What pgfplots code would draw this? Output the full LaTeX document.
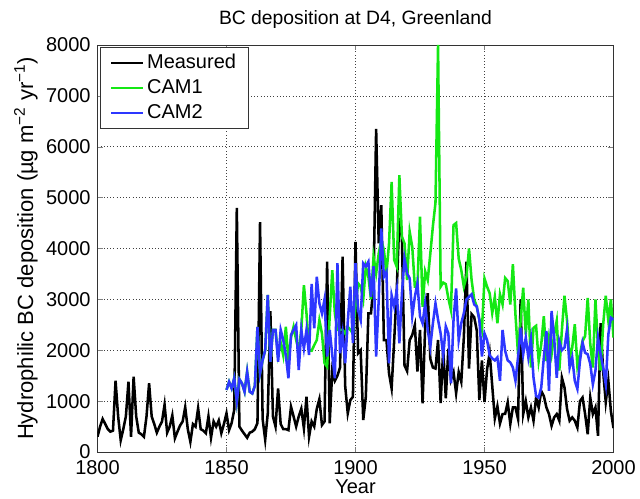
\documentclass[border=0pt]{standalone}
\usepackage{fontspec}
\setmainfont{Liberation Sans}
\usepackage{pgfplots}
\pgfplotsset{compat=1.18}
\definecolor{camgreen}{RGB}{20,232,20}
\definecolor{camblue}{RGB}{45,55,255}
\begin{document}
\fontsize{15pt}{18pt}\selectfont
\begin{tikzpicture}
\useasboundingbox (-73.125pt,-35.25pt) rectangle (406.875pt,339pt);
\begin{axis}[
 scale only axis, width=387pt, height=305.25pt,
 xmin=1800, xmax=2000, ymin=0, ymax=8000,
 xtick={1800,1850,...,2000}, ytick={0,1000,...,8000},
 /pgf/number format/1000 sep={},
 /pgf/number format/assume math mode=true,
 tick align=inside, tick pos=both,
 major tick length=4pt,
 grid=major, grid style={black!75, dotted, line width=0.5pt},
 axis line style={black!80, line width=0.6pt},
 title={BC deposition at D4, Greenland},
 title style={font=\fontsize{14.5pt}{17pt}\selectfont, at={(0.5,1)}, anchor=south, yshift=1pt},
 xlabel={Year},
 ylabel={Hydrophilic BC deposition (µg m\textsuperscript{−2} yr\textsuperscript{−1})},
 xlabel style={font=\fontsize{15pt}{18pt}\selectfont, yshift=7pt},
 ylabel style={font=\fontsize{16.5pt}{19pt}\selectfont, yshift=-4pt},
 ticklabel style={font=\fontsize{15pt}{18pt}\selectfont},
 xticklabel style={yshift=-1.5pt},
 legend style={at={(0,1)}, anchor=north west, xshift=2pt, yshift=-1.5pt,
   draw=black!80, line width=0.6pt, fill=white, font=\fontsize{15pt}{18pt}\selectfont,
   inner xsep=7pt, inner ysep=3pt, row sep=2pt},
 legend cell align=left,
 legend image code/.code={\draw[#1] (0pt,0pt) -- (24pt,0pt);},
]
\addplot[black, line width=1.9pt] coordinates {
(1800,300)(1801,500)(1802,650)(1803,550)(1804,450)(1805,400)(1806,420)(1807,1400)(1808,700)(1809,230)
(1810,450)(1811,700)(1812,1380)(1813,300)(1814,1480)(1815,700)(1816,380)(1817,350)(1818,300)(1819,700)
(1820,1350)(1821,700)(1822,550)(1823,380)(1824,500)(1825,600)(1826,930)(1827,380)(1828,500)(1829,720)
(1830,270)(1831,400)(1832,520)(1833,600)(1834,880)(1835,450)(1836,200)(1837,550)(1838,500)(1839,860)
(1840,450)(1841,420)(1842,370)(1843,700)(1844,280)(1845,600)(1846,500)(1847,620)(1848,370)(1849,550)
(1850,760)(1851,430)(1852,570)(1853,830)(1854,4800)(1855,500)(1856,420)(1857,350)(1858,280)(1859,380)
(1860,400)(1861,450)(1862,570)(1863,4520)(1864,650)(1865,240)(1866,760)(1867,2770)(1868,700)(1869,500)
(1870,1250)(1871,550)(1872,450)(1873,450)(1874,430)(1875,890)(1876,700)(1877,500)(1878,700)(1879,850)
(1880,465)(1881,1085)(1882,300)(1883,600)(1884,500)(1885,850)(1886,1040)(1887,530)(1888,600)(1889,3740)
(1890,565)(1891,1610)(1892,1400)(1893,1500)(1894,1660)(1895,3840)(1896,1300)(1897,760)(1898,1020)(1899,1085)
(1900,4130)(1901,1940)(1902,2000)(1903,630)(1904,1085)(1905,2725)(1906,2725)(1907,3300)(1908,6350)(1909,4100)
(1910,4850)(1911,2200)(1912,2200)(1913,1545)(1914,1250)(1915,2200)(1916,3200)(1917,4600)(1918,4200)(1919,1700)
(1920,1590)(1921,2200)(1922,2300)(1923,2495)(1924,1580)(1925,2400)(1926,955)(1927,2450)(1928,3120)(1929,1830)
(1930,1660)(1931,1640)(1932,2200)(1933,960)(1934,2030)(1935,1055)(1936,2030)(1937,1420)(1938,1570)(1939,1155)
(1940,1570)(1941,1380)(1942,2260)(1943,3740)(1944,1640)(1945,2710)(1946,2650)(1947,2390)(1948,1020)(1949,1800)
(1950,980)(1951,1625)(1952,1950)(1953,1300)(1954,660)(1955,900)(1956,560)(1957,745)(1958,750)(1959,975)
(1960,550)(1961,875)(1962,875)(1963,650)(1964,3000)(1965,745)(1966,1000)(1967,680)(1968,875)(1969,615)
(1970,1070)(1971,875)(1972,1200)(1973,1100)(1974,875)(1975,745)(1976,515)(1977,680)(1978,745)(1979,615)
(1980,1460)(1981,1270)(1982,845)(1983,615)(1984,680)(1985,615)(1986,480)(1987,1000)(1988,1070)(1989,745)
(1990,350)(1991,1070)(1992,745)(1993,875)(1994,320)(1995,2530)(1996,1580)(1997,980)(1998,1400)(1999,800)
(2000,470)
};
\addlegendentry{Measured}
\addplot[camgreen, line width=1.9pt] coordinates {
(1850,1220)(1851,1380)(1852,1250)(1853,1450)(1854,990)(1855,1430)(1856,1350)(1857,1185)(1858,1580)(1859,1185)
(1860,1150)(1861,1300)(1862,2460)(1863,1545)(1864,1805)(1865,2000)(1866,3085)(1867,1775)(1868,2400)(1869,2400)
(1870,1900)(1871,2150)(1872,1900)(1873,2460)(1874,1800)(1875,2250)(1876,2460)(1877,2200)(1878,2000)(1879,2400)
(1880,3280)(1881,2725)(1882,2000)(1883,1990)(1884,2100)(1885,2200)(1886,2590)(1887,2330)(1888,1745)(1889,1675)
(1890,2660)(1891,3575)(1892,2725)(1893,2400)(1894,2400)(1895,2400)(1896,2330)(1897,2460)(1898,2400)(1899,2330)
(1900,2860)(1901,3315)(1902,3250)(1903,3000)(1904,3640)(1905,3445)(1906,3000)(1907,3840)(1908,3510)(1909,3900)
(1910,4165)(1911,3970)(1912,3510)(1913,4100)(1914,5310)(1915,3775)(1916,3640)(1917,5440)(1918,4230)(1919,4100)
(1920,3380)(1921,4330)(1922,4030)(1923,3250)(1924,3250)(1925,4625)(1926,2855)(1927,3550)(1928,3380)(1929,3900)
(1930,4440)(1931,4900)(1932,8000)(1933,3250)(1934,3330)(1935,3300)(1936,3020)(1937,2790)(1938,4460)(1939,4500)
(1940,3800)(1941,3575)(1942,3250)(1943,3440)(1944,4000)(1945,3380)(1946,3000)(1947,2860)(1948,2600)(1949,2400)
(1950,3410)(1951,3250)(1952,3120)(1953,2730)(1954,3050)(1955,2530)(1956,3100)(1957,2900)(1958,3420)(1959,3360)
(1960,2900)(1961,3690)(1962,2700)(1963,1920)(1964,2580)(1965,3230)(1966,2310)(1967,3000)(1968,1660)(1969,2440)
(1970,2480)(1971,1790)(1972,2120)(1973,2670)(1974,1790)(1975,2250)(1976,1920)(1977,2310)(1978,2580)(1979,1600)
(1980,2400)(1981,3070)(1982,2580)(1983,1860)(1984,2050)(1985,2510)(1986,1690)(1987,1920)(1988,2180)(1989,2280)
(1990,3030)(1991,2120)(1992,1660)(1993,3000)(1994,2050)(1995,1600)(1996,2510)(1997,3070)(1998,2580)(1999,3000)
(2000,2250)
};
\addlegendentry{CAM1}
\addplot[camblue, line width=1.9pt] coordinates {
(1850,1220)(1851,1380)(1852,1250)(1853,1450)(1854,990)(1855,1430)(1856,1350)(1857,1185)(1858,1580)(1859,1185)
(1860,1150)(1861,1300)(1862,2460)(1863,1545)(1864,1805)(1865,2000)(1866,3085)(1867,1775)(1868,2400)(1869,2400)
(1870,1775)(1871,2400)(1872,2200)(1873,1900)(1874,1450)(1875,2300)(1876,2400)(1877,2495)(1878,1610)(1879,2400)
(1880,2035)(1881,2400)(1882,1905)(1883,3305)(1884,2430)(1885,3445)(1886,2920)(1887,2725)(1888,3000)(1889,1875)
(1890,2400)(1891,1905)(1892,1450)(1893,3710)(1894,1940)(1895,2330)(1896,1745)(1897,2560)(1898,3250)(1899,2140)
(1900,3710)(1901,2790)(1902,2595)(1903,3710)(1904,3650)(1905,3740)(1906,3050)(1907,3650)(1908,1875)(1909,2990)
(1910,4395)(1911,3445)(1912,3540)(1913,1745)(1914,3080)(1915,2860)(1916,3185)(1917,2135)(1918,3120)(1919,3805)
(1920,3510)(1921,3415)(1922,2670)(1923,3050)(1924,3315)(1925,2670)(1926,2530)(1927,2920)(1928,2400)(1929,2070)
(1930,2530)(1931,2920)(1932,2600)(1933,2330)(1934,1900)(1935,2470)(1936,2330)(1937,1350)(1938,2600)(1939,3215)
(1940,2200)(1941,2530)(1942,2730)(1943,3000)(1944,3050)(1945,3100)(1946,2900)(1947,2860)(1948,2600)(1949,1875)
(1950,2330)(1951,2200)(1952,1900)(1953,1840)(1954,1800)(1955,1860)(1956,1400)(1957,2400)(1958,1990)(1959,1800)
(1960,1760)(1961,1660)(1962,1400)(1963,1860)(1964,2440)(1965,1920)(1966,2250)(1967,1860)(1968,2220)(1969,1460)
(1970,1100)(1971,1070)(1972,1270)(1973,1860)(1974,2380)(1975,1200)(1976,2770)(1977,2250)(1978,1460)(1979,2180)
(1980,2000)(1981,2050)(1982,2410)(1983,1660)(1984,1860)(1985,1400)(1986,1240)(1987,1790)(1988,2150)(1989,1950)
(1990,1920)(1991,1730)(1992,1330)(1993,1600)(1994,2250)(1995,1920)(1996,1660)(1997,1330)(1998,2310)(1999,2640)
(2000,2600)
};
\addlegendentry{CAM2}
\end{axis}
\end{tikzpicture}
\end{document}
